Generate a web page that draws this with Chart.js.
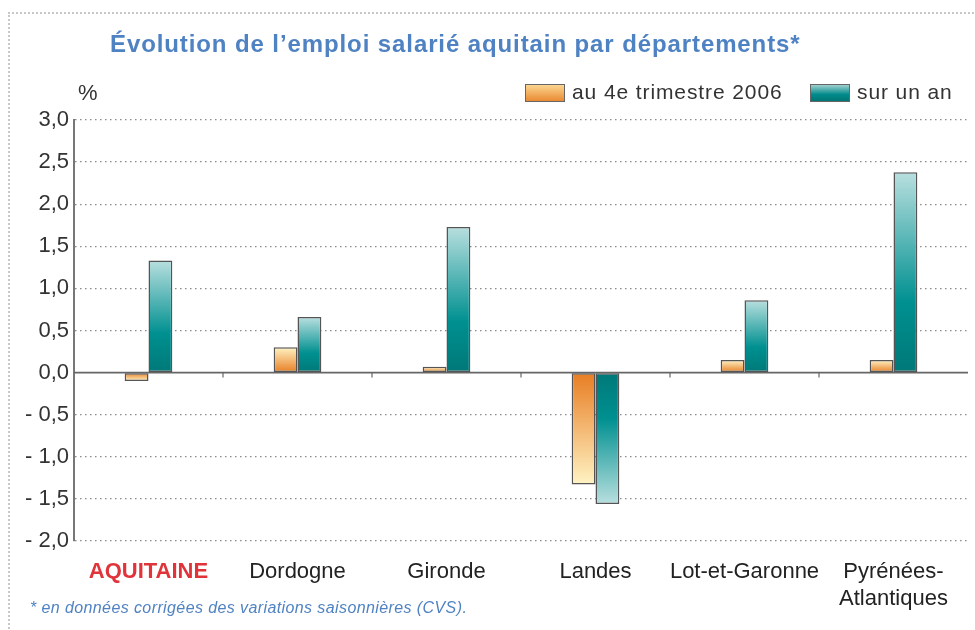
<!DOCTYPE html>
<html>
<head>
<meta charset="utf-8">
<script src="https://cdn.jsdelivr.net/npm/chart.js@4"></script>
<style>
  body { margin: 0; background: #fff; font-family: "Liberation Sans", Arial, sans-serif; }
  #wrap { position: relative; width: 975px; height: 630px; overflow: hidden; }
  #frame { position: absolute; left: 8px; top: 12px; width: 1000px; height: 616px;
           border-top: 2px dotted #c8c8c8; border-left: 2px dotted #c8c8c8; border-bottom: 2px dotted #c8c8c8; }
  #title { position: absolute; left: 110px; top: 30px; font-size: 24px; letter-spacing: 0.9px; font-weight: bold; color: #4f82c2; white-space: nowrap; }
  #pct { position: absolute; left: 78px; top: 80px; font-size: 22px; color: #333; }
  .leg { position: absolute; top: 80px; font-size: 21px; letter-spacing: 0.9px; color: #333; white-space: nowrap; }
  .box { position: absolute; top: 84px; width: 38px; height: 16px; border: 1.5px solid #666; }
  #note { position: absolute; left: 30px; top: 599px; font-size: 16px; letter-spacing: 0.4px; font-style: italic; color: #4f82c2; white-space: nowrap; }
  canvas { position: absolute; left: 0; top: 0; }
</style>
</head>
<body>
<div id="wrap">
  <div id="frame"></div>
  <canvas id="chart" width="975" height="630"></canvas>
  <div id="title">Évolution de l’emploi salarié aquitain par départements*</div>
  <div id="pct">%</div>
  <div class="box" style="left:525px; background: linear-gradient(#fbd58f, #ea8a33);"></div>
  <div class="leg" style="left:572px;">au 4e trimestre 2006</div>
  <div class="box" style="left:810px; background: linear-gradient(#9fd0d0, #008a8a 60%, #007676);"></div>
  <div class="leg" style="left:857px;">sur un an</div>
  <div id="note">* en données corrigées des variations saisonnières (CVS).</div>
</div>
<script>
// ---- data ----
const departements = ["AQUITAINE", "Dordogne", "Gironde", "Landes", "Lot-et-Garonne", ["Pyrénées-", "Atlantiques"]];
const trimestre = [-0.1, 0.3, 0.07, -1.33, 0.15, 0.15];
const surUnAn = [1.33, 0.66, 1.73, -1.56, 0.86, 2.38];
const yTicks = [3.0, 2.5, 2.0, 1.5, 1.0, 0.5, 0.0, -0.5, -1.0, -1.5, -2.0];

function barGradient(ctx, stops, solid) {
    const chart = ctx.chart;
    const y = chart.scales.y;
    if (!chart.chartArea || !y) return solid;
    const y0 = y.getPixelForValue(0);
    const y1 = y.getPixelForValue(ctx.raw);
    if (!isFinite(y0) || !isFinite(y1) || y0 === y1) return solid;
    const g = chart.ctx.createLinearGradient(0, y0, 0, y1);
    stops.forEach(s => g.addColorStop(s[0], s[1]));
    return g;
}

const orangeStops = [[0, "#e87d22"], [1, "#fff3c4"]];
const tealStops = [[0, "#007878"], [0.35, "#009090"], [1, "#b9dfdf"]];

// zero line + small category separators
const zeroLine = {
    id: "zeroLine",
    beforeDatasetsDraw(chart) {
        const { ctx, chartArea, scales } = chart;
        const y0 = scales.y.getPixelForValue(0);
        ctx.save();
        ctx.strokeStyle = "#666";
        ctx.lineWidth = 1.8;
        ctx.beginPath();
        ctx.moveTo(chartArea.left, y0);
        ctx.lineTo(chartArea.right, y0);
        ctx.stroke();
        ctx.lineWidth = 1.2;
        for (let i = 0; i < departements.length - 1; i++) {
            const x = (scales.x.getPixelForTick(i) + scales.x.getPixelForTick(i + 1)) / 2;
            ctx.beginPath();
            ctx.moveTo(x, y0);
            ctx.lineTo(x, y0 + 5);
            ctx.stroke();
        }
        ctx.restore();
    }
};

const fmt = v => {
    const s = Math.abs(v).toFixed(1).replace(".", ",");
    return v < 0 ? "- " + s : s;
};

new Chart(document.getElementById("chart"), {
    type: "bar",
    data: {
        labels: departements,
        datasets: [{
            label: "au 4e trimestre 2006",
            data: trimestre,
            backgroundColor: c => barGradient(c, orangeStops, "#ee9a45"),
            borderColor: "#555",
            borderWidth: 1.5,
            borderSkipped: false,
            categoryPercentage: 0.32,
            barPercentage: 1.0
        }, {
            label: "sur un an",
            data: surUnAn,
            backgroundColor: c => barGradient(c, tealStops, "#2a9a9a"),
            borderColor: "#555",
            borderWidth: 1.5,
            borderSkipped: false,
            categoryPercentage: 0.32,
            barPercentage: 1.0
        }]
    },
    options: {
        responsive: false,
        animation: false,
        layout: { padding: { left: 0, right: 7, top: 120, bottom: 0 } },
        plugins: {
            legend: { display: false },
            tooltip: { enabled: false }
        },
        scales: {
            x: {
                grid: { display: false },
                border: { display: false },
                ticks: {
                    padding: 10,
                    color: c => c.index === 0 ? "#e0343a" : "#222",
                    font: c => ({ family: "Liberation Sans", size: 22, weight: c.index === 0 ? "bold" : "normal", lineHeight: 1.2 }),
                    maxRotation: 0,
                    autoSkip: false
                },
                afterFit: s => { s.height = 89; }
            },
            y: {
                min: -2,
                max: 3,
                afterBuildTicks: s => { s.ticks = yTicks.map(v => ({ value: v })); },
                grid: {
                    drawTicks: false,
                    color: c => c.tick && c.tick.value === 0 ? "rgba(0,0,0,0)" : "#8a8a8a",
                    lineWidth: 1.3
                },
                border: { display: true, color: "#777", width: 2, dash: [1.5, 3.5] },
                ticks: {
                    padding: 5,
                    color: "#333",
                    font: { family: "Liberation Sans", size: 22 },
                    callback: v => fmt(v)
                },
                afterFit: s => { s.width = 74; }
            }
        }
    },
    plugins: [zeroLine]
});
</script>
</body>
</html>
